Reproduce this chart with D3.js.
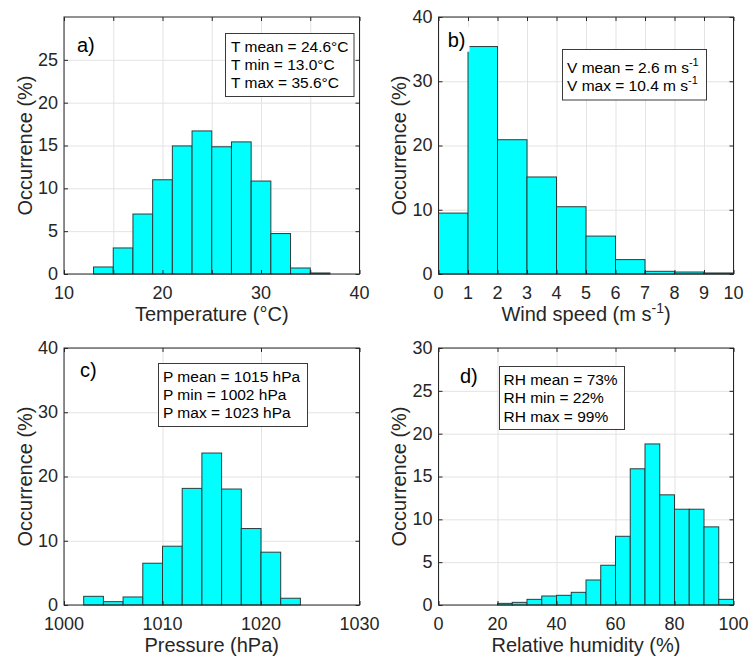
<!DOCTYPE html>
<html>
<head>
<meta charset="utf-8">
<script src="https://cdn.jsdelivr.net/npm/d3@7"></script>
<style>
  html, body { margin: 0; padding: 0; background: #fff; }
  svg { display: block; font-family: "Liberation Sans", Arial, Helvetica, sans-serif; }
</style>
</head>
<body>
<svg id="chart" width="749" height="657"></svg>
<script>
// ---------------- DATA ----------------
// a) Temperature
const tempEdges  = [13, 15, 17, 19, 21, 23, 25, 27, 29, 31, 33, 35, 37];
const tempValues = [0.82, 3.04, 7.0, 11.0, 14.95, 16.7, 14.85, 15.42, 10.85, 4.72, 0.7, 0.12];
const tempXTicks = [10, 15, 20, 25, 30, 35, 40];
const tempXLabels = ["10", "", "20", "", "30", "", "40"];
const tempYTicks = [0, 5, 10, 15, 20, 25];
const tempStats = ["T mean = 24.6°C", "T min = 13.0°C", "T max = 35.6°C"];

// b) Wind speed
const windEdges  = [0, 1, 2, 3, 4, 5, 6, 7, 8, 9, 10];
const windValues = [9.48, 35.4, 20.9, 15.1, 10.47, 5.9, 2.24, 0.42, 0.31, 0.16];
const windXTicks = [0, 1, 2, 3, 4, 5, 6, 7, 8, 9, 10];
const windYTicks = [0, 10, 20, 30, 40];
const windStats = [["V mean = 2.6 m s", "-1"], ["V max = 10.4 m s", "-1"]];

// c) Pressure
const pressEdges  = [1002, 1004, 1006, 1008, 1010, 1012, 1014, 1016, 1018, 1020, 1022, 1024];
const pressValues = [1.35, 0.52, 1.25, 6.5, 9.15, 18.15, 23.65, 18.05, 11.9, 8.22, 1.05];
const pressXTicks = [1000, 1010, 1020, 1030];
const pressYTicks = [0, 10, 20, 30, 40];
const pressStats = ["P mean = 1015 hPa", "P min = 1002 hPa", "P max = 1023 hPa"];

// d) Relative humidity
const rhEdges  = [20, 25, 30, 35, 40, 45, 50, 55, 60, 65, 70, 75, 80, 85, 90, 95, 100];
const rhValues = [0.19, 0.31, 0.66, 1.05, 1.13, 1.48, 2.92, 4.64, 8.02, 15.9, 18.8, 12.86, 11.18, 11.18, 9.12, 0.66];
const rhXTicks = [0, 20, 40, 60, 80, 100];
const rhYTicks = [0, 5, 10, 15, 20, 25, 30];
const rhStats = ["RH mean = 73%", "RH min = 22%", "RH max = 99%"];

const yLabel = "Occurrence (%)";

// ---------------- LAYOUT ----------------
const panels = [
  { id: "a)", edges: tempEdges, values: tempValues, xDomain: [10, 40], yDomain: [0, 30],
    xTicks: tempXTicks, xLabels: tempXLabels, yTicks: tempYTicks,
    xTitle: [["Temperature (°C)", null]],
    box: { left: 64, right: 359.5, top: 17, bottom: 274 },
    tag: { x: 77, y: 52 },
    stats: tempStats.map(s => [s, null]),
    statBox: { x: 225.5, y: 33.5, w: 128.5, h: 63, tx: 231, ty: [51.7, 70, 88.3] } },
  { id: "b)", edges: windEdges, values: windValues, xDomain: [0, 10], yDomain: [0, 40],
    xTicks: windXTicks, xLabels: windXTicks.map(String), yTicks: windYTicks,
    xTitle: [["Wind speed (m s", null], ["-1", "sup"], [")", null]],
    box: { left: 438.5, right: 733.5, top: 17, bottom: 274 },
    tag: { x: 447.7, y: 46.7 },
    stats: windStats,
    statBox: { x: 562.5, y: 49.5, w: 144, h: 50.5, tx: 567, ty: [72.7, 90.7] } },
  { id: "c)", edges: pressEdges, values: pressValues, xDomain: [1000, 1030], yDomain: [0, 40],
    xTicks: pressXTicks, xLabels: pressXTicks.map(String), yTicks: pressYTicks,
    xTitle: [["Pressure (hPa)", null]],
    box: { left: 64, right: 359.5, top: 348, bottom: 605 },
    tag: { x: 80, y: 376.7 },
    stats: pressStats.map(s => [s, null]),
    statBox: { x: 158.5, y: 363.5, w: 149, h: 63, tx: 163, ty: [381.7, 400, 418.3] } },
  { id: "d)", edges: rhEdges, values: rhValues, xDomain: [0, 100], yDomain: [0, 30],
    xTicks: rhXTicks, xLabels: rhXTicks.map(String), yTicks: rhYTicks,
    xTitle: [["Relative humidity (%)", null]],
    box: { left: 438.5, right: 733.5, top: 348, bottom: 605 },
    tag: { x: 460, y: 383.3 },
    stats: rhStats.map(s => [s, null]),
    statBox: { x: 499.5, y: 366.5, w: 125, h: 63, tx: 503.5, ty: [385, 403.3, 421.7] } }
];

const svg = d3.select("#chart");
const axisColor = "#262626";
const gridColor = "#e3e3e3";
const tickLen = 4;

panels.forEach(p => {
  const b = p.box;
  const x = d3.scaleLinear().domain(p.xDomain).range([b.left, b.right]);
  const y = d3.scaleLinear().domain(p.yDomain).range([b.bottom, b.top]);
  const g = svg.append("g");
  const w = b.right - b.left, h = b.bottom - b.top;

  // grid lines via axes
  g.append("g")
    .attr("transform", `translate(0,${b.bottom})`)
    .call(d3.axisBottom(x).tickValues(p.xTicks).tickSize(-h).tickFormat(""))
    .call(s => s.select(".domain").remove())
    .call(s => s.selectAll("line").attr("stroke", gridColor).attr("stroke-width", 1));
  g.append("g")
    .attr("transform", `translate(${b.left},0)`)
    .call(d3.axisLeft(y).tickValues(p.yTicks).tickSize(-w).tickFormat(""))
    .call(s => s.select(".domain").remove())
    .call(s => s.selectAll("line").attr("stroke", gridColor).attr("stroke-width", 1));

  // bars
  const bins = p.values.map((v, i) => ({ x0: p.edges[i], x1: p.edges[i + 1], v }));
  g.append("g").selectAll("rect").data(bins).join("rect")
    .attr("x", d => x(d.x0))
    .attr("y", d => y(d.v))
    .attr("width", d => x(d.x1) - x(d.x0))
    .attr("height", d => y(0) - y(d.v))
    .attr("fill", "#00ffff")
    .attr("stroke", "#2e3b3b")
    .attr("stroke-width", 1);

  // frame
  g.append("rect")
    .attr("x", b.left).attr("y", b.top).attr("width", w).attr("height", h)
    .attr("fill", "none").attr("stroke", axisColor).attr("stroke-width", 1);

  // tick marks (inward, all four sides)
  const tickStyle = s => { s.select(".domain").remove(); s.selectAll("line").attr("stroke", axisColor); };
  g.append("g").attr("transform", `translate(0,${b.bottom})`)
    .call(d3.axisBottom(x).tickValues(p.xTicks).tickSize(-tickLen).tickFormat(""))
    .call(tickStyle);
  g.append("g").attr("transform", `translate(0,${b.top})`)
    .call(d3.axisTop(x).tickValues(p.xTicks).tickSize(-tickLen).tickFormat(""))
    .call(tickStyle);
  g.append("g").attr("transform", `translate(${b.left},0)`)
    .call(d3.axisLeft(y).tickValues(p.yTicks).tickSize(-tickLen).tickFormat(""))
    .call(tickStyle);
  g.append("g").attr("transform", `translate(${b.right},0)`)
    .call(d3.axisRight(y).tickValues(p.yTicks).tickSize(-tickLen).tickFormat(""))
    .call(tickStyle);

  // tick labels
  g.append("g").selectAll("text").data(p.xTicks).join("text")
    .attr("x", d => x(d)).attr("y", b.bottom + 24.5)
    .attr("text-anchor", "middle").attr("font-size", 18).attr("fill", axisColor)
    .text((d, i) => p.xLabels[i]);
  g.append("g").selectAll("text").data(p.yTicks).join("text")
    .attr("x", b.left - 6).attr("y", d => y(d)).attr("dy", "0.33em")
    .attr("text-anchor", "end").attr("font-size", 18).attr("fill", axisColor)
    .text(d => d);

  // axis titles
  const xt = g.append("text")
    .attr("x", (b.left + b.right) / 2).attr("y", b.bottom + 47)
    .attr("text-anchor", "middle").attr("font-size", 20).attr("fill", axisColor);
  p.xTitle.forEach(([t, kind]) => {
    if (kind === "sup") xt.append("tspan").attr("font-size", 14).attr("dy", -8).text(t);
    else if (xt.selectAll("tspan").size() > 0) xt.append("tspan").attr("dy", 8).text(t);
    else xt.append("tspan").text(t);
  });
  g.append("text")
    .attr("transform", `translate(${b.left - 32.5},${(b.top + b.bottom) / 2}) rotate(-90)`)
    .attr("text-anchor", "middle").attr("font-size", 20).attr("fill", axisColor)
    .text(yLabel);

  // panel tag with white background
  const tag = g.append("text")
    .attr("x", p.tag.x).attr("y", p.tag.y)
    .attr("font-size", 20).attr("fill", "#000").text(p.id);
  const bb = tag.node().getBBox();
  g.insert("rect", function () { return tag.node(); })
    .attr("x", bb.x - 4).attr("y", bb.y - 2).attr("width", bb.width + 8).attr("height", bb.height + 3)
    .attr("fill", "#fff");

  // stats box
  const sb = p.statBox;
  g.append("rect").attr("x", sb.x).attr("y", sb.y).attr("width", sb.w).attr("height", sb.h)
    .attr("fill", "#fff").attr("stroke", "#3a3a3a").attr("stroke-width", 1);
  p.stats.forEach((s, i) => {
    const t = g.append("text").attr("x", sb.tx).attr("y", sb.ty[i])
      .attr("font-size", 15.5).attr("fill", "#000");
    t.append("tspan").text(Array.isArray(s) ? s[0] : s);
    if (Array.isArray(s) && s[1]) t.append("tspan").attr("font-size", 11).attr("dy", -7).text(s[1]);
  });
});
</script>
</body>
</html>
